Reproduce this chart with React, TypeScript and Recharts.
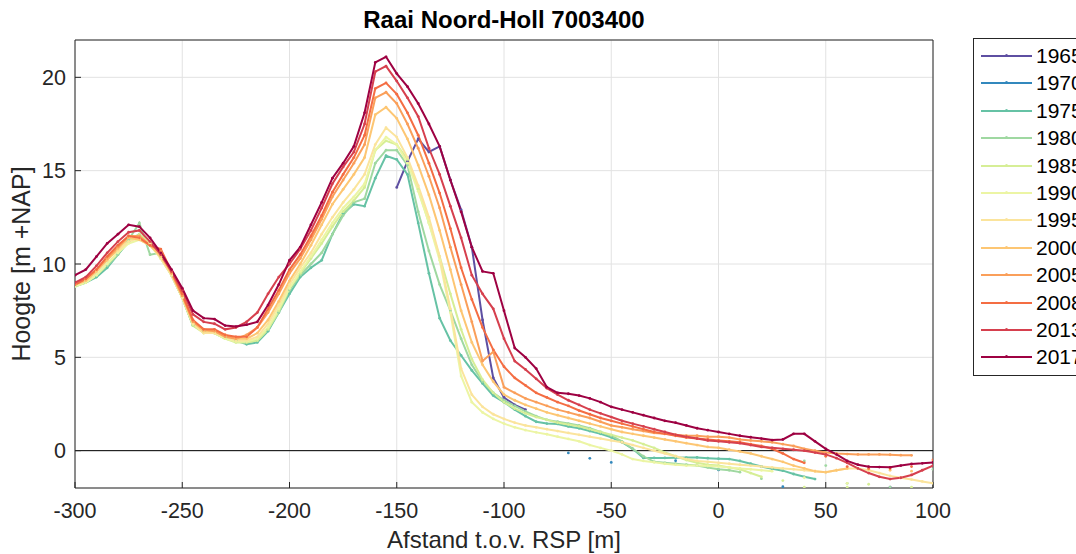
import { LineChart, Line, XAxis, YAxis, CartesianGrid, ReferenceLine } from 'recharts';

const _ = null;

// afstand t.o.v. RSP [m], profile sampled every 5 m
const distance = [
  -300, -295, -290, -285, -280, -275, -270, -265, -260, -255,
  -250, -245, -240, -235, -230, -225, -220, -215, -210, -205,
  -200, -195, -190, -185, -180, -175, -170, -165, -160, -155,
  -150, -145, -140, -135, -130, -125, -120, -115, -110, -105,
  -100, -95, -90, -85, -80, -75, -70, -65, -60, -55,
  -50, -45, -40, -35, -30, -25, -20, -15, -10, -5,
  0, 5, 10, 15, 20, 25, 30, 35, 40, 45,
  50, 55, 60, 65, 70, 75, 80, 85, 90, 95,
  100,
];

const h1965 = [
  _, _, _, _, _, _, _, _, _, _,
  _, _, _, _, _, _, _, _, _, _,
  _, _, _, _, _, _, _, _, _, _,
  14.1, 15.5, 16.7, 16.0, 16.3, 14.5, 12.9, 10.9, 7.0, 3.9,
  2.85, 2.45, 2.2, _, _, _, _, _, _, _,
  _, _, _, _, _, _, _, _, _, _,
  _, _, _, _, _, _, _, _, _, _,
  _, _, _, _, _, _, -1.95, _, _, _,
  _,
];

const h1970 = [
  _, _, _, _, _, _, _, _, _, _,
  _, _, _, _, _, _, _, _, _, _,
  _, _, _, _, _, _, _, _, _, _,
  _, _, _, _, _, _, _, _, _, _,
  _, _, _, _, _, _, -0.12, _, -0.41, _,
  -0.63, _, _, _, _, _, -0.54, _, _, _,
  -1.03, _, _, _, _, _, -1.93, _, _, _,
  _, _, _, _, _, _, _, _, _, _,
  _,
];

const h1975 = [
  8.8, 9.0, 9.3, 9.8, 10.5, 11.2, 11.6, 11.0, 10.4, 9.4,
  8.2, 6.7, 6.4, 6.4, 6.1, 5.9, 5.7, 5.8, 6.4, 7.4,
  8.4, 9.3, 9.8, 10.2, 11.6, 12.7, 13.2, 13.1, 14.6, 15.8,
  15.6, 14.8, 12.2, 9.5, 7.1, 5.9, 5.1, 4.3, 3.6, 2.95,
  2.6, 2.2, 1.85, 1.55, 1.45, 1.43, 1.3, 1.2, 1.05, 0.9,
  0.72, 0.45, 0.1, -0.39, -0.39, -0.39, -0.38, -0.37, -0.36, -0.4,
  -0.43, -0.45, -0.55, -0.7, -0.85, -0.97, -1.07, -1.25, -1.4, -1.52,
  _, _, _, _, _, _, _, _, _, _,
  _,
];

const h1980 = [
  8.8, 9.0, 9.4, 9.9, 10.5, 11.3, 12.2, 10.5, 10.6, 9.4,
  8.2, 6.7, 6.4, 6.3, 6.0, 5.9, 5.8, 5.9, 6.5, 7.4,
  8.6, 9.4, 10.0, 10.6, 11.6, 12.6, 13.3, 13.5, 15.4, 16.1,
  16.1, 15.3, 12.8, 10.7, 8.9, 7.5, 6.0, 4.6, 3.7, 3.1,
  2.7, 2.4, 2.1, 1.85, 1.65, 1.55, 1.45, 1.35, 1.2, 1.0,
  0.8, 0.5, 0.1, -0.3, -0.6, -0.65, -0.7, -0.75, -0.8, -0.9,
  -1.0, -1.05, -1.15, _, -1.5, _, _, _, -0.55, _,
  -0.8, _, -1.75, _, _, _, -1.95, _, _, _,
  -1.0,
];

const h1985 = [
  8.8, 9.0, 9.4, 10.0, 10.6, 11.2, 11.6, 11.1, 10.3, 9.4,
  8.2, 6.7, 6.3, 6.3, 6.0, 5.8, 5.8, 5.9, 6.5, 7.5,
  8.7, 9.5, 10.3, 11.1, 12.0, 12.8, 13.4, 14.1, 16.1, 16.6,
  16.4, 15.6, 14.0, 12.2, 10.4, 8.4, 6.5, 4.9, 3.8, 3.1,
  2.6, 2.25, 2.0, 1.8, 1.65, 1.5, 1.4, 1.3, 1.15, 1.0,
  0.85, 0.7, 0.55, 0.35, 0.15, -0.1, -0.3, -0.5, -0.65, -0.75,
  -0.8, -0.9, -1.0, -1.2, -1.4, _, -1.6, _, -1.95, _,
  _, _, -1.95, _, -1.8, _, _, _, -1.95, _,
  _,
];

const h1990 = [
  8.8, 9.0, 9.4, 10.0, 10.6, 11.1, 11.3, 11.0, 10.3, 9.4,
  8.2, 6.8, 6.3, 6.3, 6.0, 5.85, 5.85, 6.0, 6.6, 7.6,
  8.7, 9.6, 10.4, 11.3, 12.2, 13.0, 13.6, 14.3, 16.1, 16.8,
  16.4, 15.4, 13.9, 12.2, 10.2, 7.4, 4.0, 2.6, 2.05, 1.7,
  1.45, 1.25, 1.1, 0.98, 0.88, 0.75, 0.63, 0.5, 0.3, 0.15,
  0.0, -0.2, -0.45, -0.55, -0.62, -0.7, -0.75, -0.8, -0.8, -0.82,
  -0.85, -0.9, -0.95, -1.0, -1.05, -1.1, _, _, -1.45, _,
  _, _, -1.75, _, _, _, _, _, _, _,
  _,
];

const h1995 = [
  8.9, 9.1, 9.6, 10.3, 10.7, 11.2, 11.4, 11.1, 10.3, 9.4,
  8.2, 6.8, 6.3, 6.3, 6.1, 5.9, 5.9, 6.1, 6.8, 7.8,
  8.9, 9.8, 10.6, 11.6, 12.5, 13.3, 14.0, 14.8, 16.4, 17.3,
  16.8, 15.7, 14.2, 12.5, 10.4, 7.6, 4.4, 3.0, 2.35, 1.95,
  1.7, 1.5, 1.35, 1.25, 1.15, 1.05, 0.95, 0.85, 0.75, 0.65,
  0.55, 0.45, 0.3, 0.15, 0.0, -0.15, -0.3, -0.45, -0.55, -0.6,
  -0.65, -0.7, -0.75, -0.8, -0.85, -0.9, -0.95, -1.0, -1.05, -1.1,
  -1.15, -1.05, -0.95, -0.95, -1.05, -1.2, -1.35, -1.45, -1.55, -1.65,
  -1.75,
];

const h2000 = [
  8.9, 9.1, 9.6, 10.2, 10.8, 11.4, 11.3, 11.0, 10.4, 9.5,
  8.3, 6.9, 6.4, 6.4, 6.2, 6.0, 6.0, 6.3, 7.0, 8.0,
  9.1, 10.0, 11.0, 12.1, 13.2, 14.0, 14.8, 15.7, 18.0, 18.4,
  17.8, 16.7, 15.3, 13.7, 11.8, 9.7, 7.5, 5.8, 4.6, 3.7,
  3.0, 2.7, 2.45, 2.25, 2.05, 1.9, 1.75, 1.6, 1.45, 1.3,
  1.15, 1.0, 0.9, 0.8, 0.7, 0.6, 0.5, 0.4, 0.3, 0.2,
  0.15, 0.05, -0.05, -0.15, -0.3, -0.45, -0.6, -0.8, -0.95, -1.1,
  -1.15, -1.05, -0.95, _, -1.0, _, -1.05, _, -1.1, _,
  _,
];

const h2005 = [
  8.9, 9.2, 9.7, 10.3, 10.9, 11.5, 11.5, 11.0, 10.7, 9.5,
  8.3, 6.9, 6.5, 6.4, 6.1, 6.0, 6.2, 6.6, 7.4, 8.4,
  9.5, 10.3, 11.3, 12.4, 13.6, 14.5, 15.4, 16.4, 18.9, 19.2,
  18.6, 17.5, 16.2, 14.7, 13.0, 10.9, 8.9, 6.9, 4.8, 5.3,
  3.4, 3.1, 2.8, 2.6, 2.4, 2.2, 2.05, 1.9, 1.75, 1.55,
  1.35, 1.25, 1.15, 1.05, 0.95, 0.9, 0.85, 0.8, 0.8, 0.75,
  0.75, 0.7, 0.6, 0.55, 0.5, 0.45, 0.35, 0.25, 0.1, 0.0,
  -0.1, -0.15, -0.18, -0.2, -0.2, -0.2, -0.22, -0.24, -0.25, _,
  _,
];

const h2008 = [
  8.9, 9.2, 9.7, 10.4, 11.0, 11.5, 11.4, 11.0, 10.8, 9.6,
  8.4, 7.0, 6.5, 6.5, 6.2, 6.1, 6.1, 6.6, 7.6, 8.6,
  9.7, 10.5, 11.5, 12.6, 13.85, 14.8, 15.7, 16.9, 19.4, 19.7,
  19.1, 18.1, 16.9, 15.4, 13.8, 11.9, 9.8, 8.1, 6.6, 5.4,
  4.5, 3.9, 3.5, 3.1, 2.85, 2.6, 2.4, 2.15, 1.95, 1.75,
  1.6, 1.45, 1.3, 1.15, 1.0, 0.9, 0.8, 0.7, 0.65, 0.6,
  0.55, 0.5, 0.45, 0.35, 0.25, 0.1, -0.15, -0.45, -0.65, _,
  -0.3, _, -0.85, _, -0.95, _, -0.95, _, -0.85, _,
  -0.5,
];

const h2013 = [
  9.0, 9.3, 9.9, 10.6, 11.2, 11.7, 11.8, 11.2, 10.5, 9.6,
  8.6, 7.3, 6.9, 6.8, 6.5, 6.6, 6.9, 7.4, 8.4, 9.3,
  10.0, 10.8, 11.8, 13.0, 14.3, 15.2, 16.0, 17.5, 20.3, 20.6,
  19.8, 18.9, 17.9, 16.2, 14.8, 13.1, 11.4, 9.4, 8.4, 7.6,
  6.0, 4.8, 4.35, 3.85, 3.35, 3.0, 2.7, 2.45, 2.2, 2.0,
  1.8, 1.6, 1.45, 1.3, 1.15, 1.0, 0.85, 0.75, 0.65, 0.55,
  0.5, 0.45, 0.4, 0.3, 0.2, 0.15, 0.1, 0.05, 0.0, -0.1,
  -0.2, -0.4, -0.65, -0.95, -1.2, -1.4, -1.52, -1.45, -1.3, -1.05,
  -0.8,
];

const h2017 = [
  9.4, 9.7, 10.4, 11.1, 11.6, 12.1, 12.0, 11.4, 10.6, 9.7,
  8.7, 7.5, 7.1, 7.05, 6.7, 6.65, 6.75, 6.9, 7.8, 8.9,
  10.2, 10.9, 12.1, 13.3, 14.6, 15.4, 16.3, 18.1, 20.8, 21.1,
  20.2, 19.5, 18.6, 17.5, 16.3, 14.5, 12.8, 10.9, 9.6, 9.5,
  7.5, 5.5, 5.0, 4.4, 3.4, 3.1, 3.05, 2.95, 2.8, 2.6,
  2.35, 2.2, 2.05, 1.9, 1.75, 1.6, 1.5, 1.35, 1.2, 1.1,
  1.0, 0.9, 0.8, 0.72, 0.65, 0.57, 0.6, 0.9, 0.9, 0.5,
  0.1, -0.2, -0.55, -0.75, -0.86, -0.88, -0.89, -0.8, -0.71, -0.68,
  -0.63,
];

const years = ['1965', '1970', '1975', '1980', '1985', '1990', '1995', '2000', '2005', '2008', '2013', '2017'];
const heights = [h1965, h1970, h1975, h1980, h1985, h1990, h1995, h2000, h2005, h2008, h2013, h2017];
const colors = [
  '#5e4fa2', '#3288bd', '#66c2a5', '#9fd8a1', '#d6ee96', '#ecf5a4',
  '#fbe49c', '#fdc673', '#fa9f5a', '#f46d43', '#d6404e', '#9e0142',
];

const xTicks = [-300, -250, -200, -150, -100, -50, 0, 50, 100];
const yTicks = [0, 5, 10, 15, 20];

const AXIS = '#262626';
const FONT = '"Liberation Sans", Arial, Helvetica, sans-serif';

export default function App() {
  const rows = distance.map((x, i) => {
    const row: Record<string, number | null> = { x };
    years.forEach((y, k) => {
      row['y' + y] = heights[k][i];
    });
    return row;
  });

  return (
    <div style={{ position: 'absolute', left: 0, top: 0, width: 1076, height: 554, overflow: 'hidden', background: '#fff', fontFamily: FONT }}>
      <div style={{ position: 'absolute', left: 75, width: 858, top: 6, textAlign: 'center', fontWeight: 'bold', fontSize: 24, color: '#000' }}>
        Raai Noord-Holl 7003400
      </div>

      <LineChart width={1076} height={554} data={rows} margin={{ top: 40, right: 143, bottom: 0, left: 0 }} style={{ fontFamily: FONT }}>
        <CartesianGrid stroke="#e2e2e2" strokeWidth={1} />
        <XAxis
          dataKey="x"
          type="number"
          domain={[-300, 100]}
          ticks={xTicks}
          allowDataOverflow
          height={66}
          stroke={AXIS}
          tick={{ fill: AXIS, fontSize: 21.5 }}
          tickSize={-6}
          tickMargin={21}
          label={{ value: 'Afstand t.o.v. RSP [m]', position: 'insideBottom', offset: 6, fill: AXIS, fontSize: 24 }}
        />
        <YAxis
          type="number"
          domain={[-2, 22]}
          ticks={yTicks}
          allowDataOverflow
          width={75}
          stroke={AXIS}
          tick={{ fill: AXIS, fontSize: 21.5 }}
          tickSize={-6}
          tickMargin={15}
          label={{ value: 'Hoogte [m +NAP]', angle: -90, position: 'insideLeft', offset: 21, fill: AXIS, fontSize: 25, style: { textAnchor: 'middle' } }}
        />
        <ReferenceLine y={22} stroke={AXIS} strokeWidth={1} />
        <ReferenceLine x={100} stroke={AXIS} strokeWidth={1} />
        <ReferenceLine y={0} stroke="#000" strokeWidth={1} />
        {years.map((y, k) => (
          <Line
            key={y}
            type="linear"
            dataKey={'y' + y}
            name={y}
            stroke={colors[k]}
            strokeWidth={2}
            dot={{ r: 1.4, fill: colors[k], stroke: 'none' }}
            activeDot={false}
            connectNulls={false}
            isAnimationActive={false}
          />
        ))}
      </LineChart>

      {/* legend box, cut off by the right edge like the original */}
      <div style={{ position: 'absolute', left: 973, top: 38, width: 140, height: 338, border: `1px solid ${AXIS}`, background: '#fff', boxSizing: 'border-box' }}>
        {years.map((y, k) => (
          <div key={y} style={{ position: 'absolute', left: 0, top: 3 + k * 27.4, height: 28, width: 140 }}>
            <div style={{ position: 'absolute', left: 7, top: 13, width: 51, height: 2, background: colors[k] }} />
            <div style={{ position: 'absolute', left: 31, top: 12, width: 3, height: 3, borderRadius: 2, background: colors[k] }} />
            <div style={{ position: 'absolute', left: 62, top: 0, lineHeight: '28px', fontSize: 21, color: '#000' }}>{y}</div>
          </div>
        ))}
      </div>
    </div>
  );
}
